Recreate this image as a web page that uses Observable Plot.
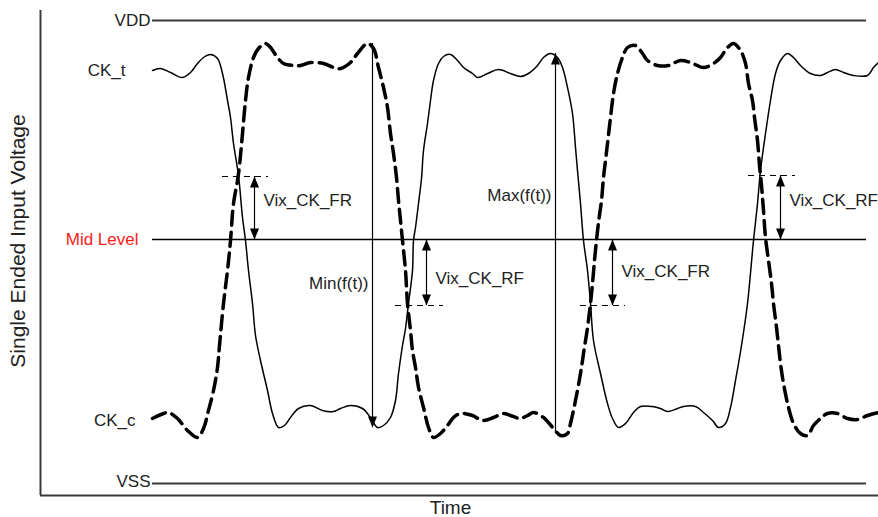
<!DOCTYPE html>
<html>
<head>
<meta charset="utf-8">
<script src="https://cdn.jsdelivr.net/npm/d3@7"></script>
<script src="https://cdn.jsdelivr.net/npm/@observablehq/plot@0.6"></script>
<style>
  html, body { margin: 0; padding: 0; background: #fff; }
  #chart svg { display: block; }
</style>
</head>
<body>
<div id="chart"></div>
<script>
// ---- Data (time in arbitrary units, voltage in arbitrary units) ----
const levelStart = 112, levelEnd = 826;
const levels = [
  { name: "VDD", v: 475 },
  { name: "VSS", v: 12 }
];
const midLevel = 256;

// CK_t (solid) [time, voltage]
const ckT = [
  [112,425],[120,427],[130,423],[142,418],[150,423],[157,432],[163,438],[170,441],[177,437],[182,422],
  [187,395],[190,378],[193,352],[198,320],[202,278],[205,255],[208,225],[212,192],[215,160],[220,135],
  [227,105],[232,82],[238,68],[244,70],[250,78],[258,87],[270,90],[282,85],[293,84],[300,87],
  [310,90],[322,87],[330,78],[337,68],[343,70],[350,78],[355,95],[358,122],[362,150],[365,167],
  [368,192],[372,225],[373,255],[375,268],[378,292],[381,317],[383,345],[387,372],[390,395],[393,415],
  [398,432],[403,439],[410,441],[417,435],[423,428],[432,422],[437,418],[447,422],[458,426],[470,422],
  [480,419],[488,422],[497,430],[503,438],[510,442],[517,438],[522,428],[527,408],[532,382],[535,348],
  [537,325],[540,292],[543,255],[547,225],[550,192],[553,155],[560,122],[567,92],[572,77],[578,68],
  [585,72],[593,83],[600,89],[612,89],[620,87],[627,84],[637,87],[643,89],[655,89],[663,83],
  [672,75],[678,68],[685,72],[690,88],[695,115],[701,150],[707,192],[713,255],[717,292],[720,325],
  [725,362],[730,395],[735,422],[740,435],[747,442],[753,438],[760,430],[770,422],[780,420],[787,423],
  [795,426],[803,423],[813,420],[827,420],[833,428],[838,433]
];

// CK_c (dashed) [time, voltage]
const ckC = [
  [112,77],[123,82],[128,83],[137,77],[147,65],[157,58],[163,67],[168,85],[173,105],[177,128],
  [179,150],[183,192],[187,225],[190,255],[193,292],[197,315],[199,330],[202,362],[205,395],[208,418],
  [213,438],[218,447],[225,452],[230,448],[237,438],[243,432],[253,430],[260,430],[270,433],[283,432],
  [293,428],[300,427],[310,433],[317,442],[327,452],[333,447],[338,428],[343,408],[347,388],[350,362],
  [353,342],[356,318],[358,295],[360,275],[362,255],[365,225],[367,192],[370,165],[372,145],[375,128],
  [378,108],[383,88],[388,68],[393,58],[400,62],[407,70],[413,78],[420,82],[432,80],[442,75],
  [453,78],[463,82],[470,80],[480,77],[487,80],[493,83],[503,78],[508,73],[513,67],[520,60],
  [527,62],[530,72],[535,95],[540,122],[543,142],[547,168],[550,192],[552,212],[554,235],[556,255],
  [558,273],[561,295],[563,318],[565,335],[567,352],[570,378],[573,402],[577,422],[582,438],[587,448],
  [595,450],[602,442],[607,435],[617,430],[628,430],[640,435],[650,433],[663,428],[673,432],[680,438],
  [687,448],[693,452],[700,445],[705,432],[708,412],[712,395],[714,378],[717,355],[719,330],[721,310],
  [723,285],[725,258],[728,235],[731,212],[733,192],[736,168],[738,150],[740,132],[743,112],[748,88],
  [753,72],[760,62],[767,60],[773,70],[780,77],[787,82],[797,82],[807,77],[817,76],[827,80],[838,83]
];

// Cross-point reference levels [t1, t2, v]
const crossRefs = [
  [182,228,319],[355,403,190],[540,585,190],[708,755,320]
];

// Vix annotations
const vixLabels = ["Vix_CK_FR","Vix_CK_RF","Vix_CK_FR","Vix_CK_RF"];
const vixTime   = [214, 386, 572, 740];
const vixLow    = [256, 190, 190, 256];
const vixHigh   = [319, 256, 256, 320];
const vixTextV  = [295, 217, 224, 295];

// Min / Max annotations
const minMaxLabels = ["Min(f(t))", "Max(f(t))"];
const minMaxTime   = [332, 515];
const minMaxFrom   = [452, 63];   // start of arrow (no head)
const minMaxTo     = [68, 442];   // arrow tip
const minMaxTextV  = [212, 300];

// Signal / level name labels
const sideLabels = [
  { text: "VDD",       t: 110, v: 475, color: "#222" },
  { text: "CK_t",      t: 85,  v: 425, color: "#222" },
  { text: "Mid Level", t: 98,  v: 256, color: "#ff1a1a" },
  { text: "CK_c",      t: 95,  v: 75,  color: "#222" },
  { text: "VSS",       t: 110, v: 14,  color: "#222" }
];

const xTitle = "Time";
const yTitle = "Single Ended Input Voltage";

// ---- Build tables ----
const tData = ckT.map(([t, v]) => ({ t, v }));
const cData = ckC.map(([t, v]) => ({ t, v }));
const refData = crossRefs.map(([t1, t2, v]) => ({ t1, t2, v }));
const vix = vixLabels.map((label, i) => ({ label, t: vixTime[i], lo: vixLow[i], hi: vixHigh[i], tv: vixTextV[i] }));
const mm = minMaxLabels.map((label, i) => ({ label, t: minMaxTime[i], from: minMaxFrom[i], to: minMaxTo[i], tv: minMaxTextV[i] }));
const levelData = levels.map(d => ({ ...d, t1: levelStart, t2: levelEnd }));

const font = "'Liberation Sans', Arial, Helvetica, sans-serif";
const head = { shape: "spike", length: 11, r: 4.5, anchor: "end", fill: "black", stroke: "none" };

const chart = Plot.plot({
  width: 878,
  height: 517,
  marginLeft: 40,
  marginRight: 0,
  marginTop: 10,
  marginBottom: 22,
  x: { domain: [0, 838], axis: null },
  y: { domain: [0, 485], axis: null },
  style: { fontFamily: font, background: "white" },
  marks: [
    // axes (L shape)
    Plot.ruleX([0], { stroke: "#3a3a3a", strokeWidth: 2 }),
    Plot.ruleY([0], { stroke: "#3a3a3a", strokeWidth: 2 }),
    // supply levels
    Plot.ruleY(levelData, { y: "v", x1: "t1", x2: "t2", stroke: "#3a3a3a", strokeWidth: 2 }),
    Plot.ruleY([midLevel], { x1: levelStart, x2: levelEnd, stroke: "black", strokeWidth: 1.5 }),
    // cross-point references
    Plot.ruleY(refData, { y: "v", x1: "t1", x2: "t2", stroke: "black", strokeWidth: 1.2, strokeDasharray: "6,5" }),
    // waveforms
    Plot.line(tData, { x: "t", y: "v", curve: "catmull-rom", stroke: "black", strokeWidth: 1.5 }),
    Plot.line(cData, { x: "t", y: "v", curve: "catmull-rom", stroke: "black", strokeWidth: 3.5, strokeDasharray: "14,7" }),
    // Vix arrows
    Plot.ruleX(vix, { x: "t", y1: "lo", y2: "hi", stroke: "black", strokeWidth: 1.2 }),
    Plot.vector(vix, { x: "t", y: "hi", rotate: 0, ...head }),
    Plot.vector(vix, { x: "t", y: "lo", rotate: 180, ...head }),
    Plot.text(vix, { x: "t", y: "tv", text: "label", textAnchor: "start", dx: 9, fontSize: 17, fill: "#222" }),
    // Min / Max arrows
    Plot.ruleX(mm, { x: "t", y1: "from", y2: "to", stroke: "black", strokeWidth: 1.2 }),
    Plot.vector(mm, { x: "t", y: "to", rotate: d => d.to > d.from ? 0 : 180, ...head }),
    Plot.text(mm, { x: "t", y: "tv", text: "label", textAnchor: "end", dx: -4, fontSize: 17, fill: "#222" }),
    // side labels
    Plot.text(sideLabels, { x: "t", y: "v", text: "text", textAnchor: "end", fontSize: 17, fill: d => d.color }),
    // axis titles
    Plot.text([yTitle], { frameAnchor: "left", textAnchor: "middle", lineAnchor: "middle", rotate: -90, dx: -22, dy: -12, fontSize: 21, fill: "#222" }),
    Plot.text([xTitle], { frameAnchor: "bottom", textAnchor: "middle", lineAnchor: "middle", dx: -9, dy: 12, fontSize: 19, fill: "#222" })
  ]
});

document.getElementById("chart").appendChild(chart);
</script>
</body>
</html>
